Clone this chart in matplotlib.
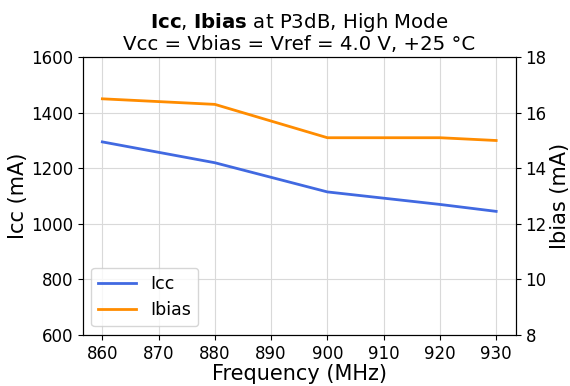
import matplotlib
matplotlib.use("Agg")
import matplotlib.pyplot as plt

freq = [860, 880, 900, 920, 930]
icc = [1295, 1220, 1115, 1070, 1045]
ibias = [16.5, 16.3, 15.1, 15.1, 15.0]

fig, ax = plt.subplots(figsize=(5.7, 3.86), dpi=100)
ax2 = ax.twinx()

l1, = ax.plot(freq, icc, color="#4169E1", lw=2, label="Icc")
l2, = ax2.plot(freq, ibias, color="#FF8C00", lw=2, label="Ibias")

ax.set_ylim(600, 1600)
ax2.set_ylim(8, 18)
ax.set_xticks(range(860, 931, 10))
ax.grid(True, color="#d9d9d9", lw=0.8)
ax.set_axisbelow(True)

ax.set_xlabel("Frequency (MHz)", fontsize=15, labelpad=1)
ax.set_ylabel("Icc (mA)", fontsize=15, labelpad=2)
ax2.set_ylabel("Ibias (mA)", fontsize=15, labelpad=2)
ax.tick_params(labelsize=12)
ax2.tick_params(labelsize=12)

ax.set_title(r"$\mathbf{Icc}$, $\mathbf{Ibias}$ at P3dB, High Mode" + "\nVcc = Vbias = Vref = 4.0 V, +25 °C",
             fontsize=14.2, linespacing=1.1, pad=5)

ax.legend(handles=[l1, l2], loc="lower left", fontsize=12.5, handlelength=2.2)

fig.subplots_adjust(left=0.145, right=0.905, top=0.852, bottom=0.132)
fig.savefig("out.png", dpi=100)
